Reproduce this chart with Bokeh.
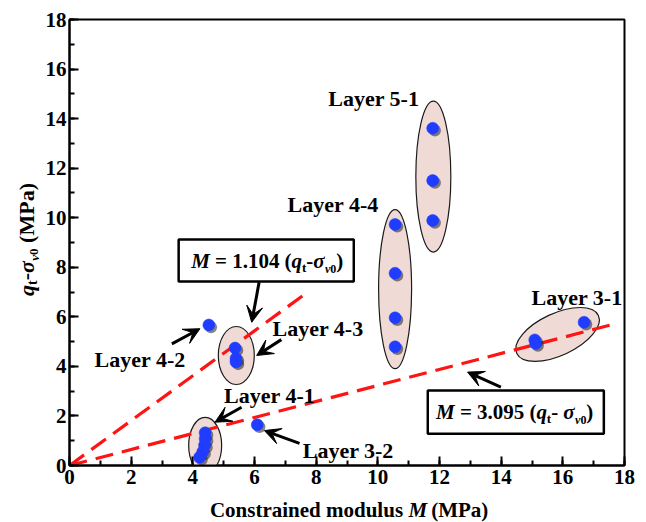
import math
from bokeh.plotting import figure
from bokeh.layouts import row, column
from bokeh.models import Range1d, SingleIntervalTicker, Label, Arrow, VeeHead, BoxAnnotation, ColumnDataSource
from bokeh.core.properties import value
from bokeh.embed import file_html
from bokeh.resources import INLINE

# ---------------- data ----------------
point_layer = (["5-1"] * 3 + ["4-4"] * 4 + ["4-3"] * 3 + ["4-2"] + ["4-1"] * 5 + ["3-2"] + ["3-1"] * 3)
point_M = [11.78, 11.78, 11.78,
           10.56, 10.56, 10.56, 10.56,
           5.37, 5.40, 5.40,
           4.52,
           4.40, 4.40, 4.38, 4.32, 4.22,
           6.09,
           15.09, 15.12, 16.69]
point_q = [13.61, 11.50, 9.89,
           9.73, 7.76, 5.96, 4.79,
           4.74, 4.32, 4.18,
           5.67,
           1.32, 1.08, 0.82, 0.55, 0.33,
           1.64,
           5.07, 4.92, 5.78]

# fitted relations M = k (qt - sv0)
fit_k = [1.104, 3.095]
fit_M_end = [7.73, 17.70]

layer_names = ["Layer 5-1", "Layer 4-4", "Layer 4-3", "Layer 4-2", "Layer 4-1", "Layer 3-2", "Layer 3-1"]
label_M = [9.87, 8.55, 8.06, 2.29, 6.49, 9.04, 16.46]
label_q = [14.80, 10.53, 5.52, 4.27, 2.82, 0.61, 6.79]

# group ellipses (centres in data units)
ell_M = [11.80, 10.56, 5.41, 4.40, 15.83]
ell_q = [11.66, 7.12, 4.44, 0.81, 5.29]
ell_w = [35, 33, 36, 33, 90]
ell_h = [151, 159, 58, 56, 42]
ell_ang = [0, 0, 0, 0, 25]

# arrows (start -> tip)
arr_x0 = [6.15, 6.87, 3.32, 5.58, 7.46, 13.99]
arr_y0 = [7.40, 5.08, 4.91, 2.35, 0.89, 3.16]
arr_x1 = [5.91, 6.07, 4.23, 4.72, 6.32, 12.91]
arr_y1 = [5.78, 4.44, 5.52, 1.75, 1.41, 3.77]

# equation boxes (left, right, bottom, top) and text anchor (centre x, baseline y)
box_l = [3.54, 11.62]
box_r = [9.22, 17.33]
box_b = [7.43, 1.28]
box_t = [9.12, 3.03]
eq_x = [6.41, 14.44]
eq_y = [7.98, 1.88]

tick_interval = 2
FONT = "Liberation Serif"

# ---------------- layout sizes ----------------
W, H = 646, 522
YW = 42            # strip for y title
XH = 27            # strip for x title
MW, MH = W - YW, H - XH
ML, MR, MT, MB = 25, 22, 19, 30

p = figure(width=MW, height=MH, output_backend="svg", toolbar_location=None,
           x_range=Range1d(0, 18), y_range=Range1d(0, 18),
           min_border_left=ML, min_border_right=MR, min_border_top=MT, min_border_bottom=MB)
p.background_fill_color = "white"
p.border_fill_color = "white"
p.grid.visible = False
p.outline_line_color = "black"
p.outline_line_width = 2
p.outline_line_alpha = 1

for ax in (p.xaxis[0], p.yaxis[0]):
    ax.ticker = SingleIntervalTicker(interval=tick_interval, num_minor_ticks=2)
    ax.axis_line_width = 2
    ax.axis_line_color = "black"
    ax.major_tick_in = 9
    ax.major_tick_out = 0
    ax.minor_tick_in = 5
    ax.minor_tick_out = 0
    ax.major_tick_line_width = 2
    ax.minor_tick_line_width = 2
    ax.major_label_text_font = FONT
    ax.major_label_text_font_style = "bold"
    ax.major_label_text_font_size = "21px"
    ax.major_label_text_color = "black"
p.xaxis.major_label_standoff = 4
p.yaxis.major_label_standoff = 3

fw = MW - ML - MR
fh = MH - MT - MB
dxp = 18.0 / fw
dyp = 18.0 / fh

# ellipses
es = ColumnDataSource(dict(x=ell_M, y=ell_q, w=ell_w, h=ell_h, a=[math.radians(a) for a in ell_ang]))
p.ellipse(x="x", y="y", width="w", height="h", angle="a", width_units="screen", height_units="screen",
          source=es, fill_color="#f0dad6", line_color="#1a1a1a", line_width=1.2)

# fit lines
for k, xe in zip(fit_k, fit_M_end):
    p.line([0, xe], [0, xe / k], line_color="#ff1414", line_width=3.2, line_dash="18 9")

# points with shadow
p.scatter([m + 2.2 * dxp for m in point_M], [q - 2.2 * dyp for q in point_q], size=12,
          fill_color="#202020", line_color=None, fill_alpha=0.55)
p.scatter(point_M, point_q, size=12, fill_color="#1f3cff", line_color="#1f3cff", line_width=0.5)

# layer labels
p.text(x=label_M, y=label_q, text=layer_names, text_font=value(FONT), text_font_size=value("22px"),
       text_font_style="bold", text_align="center", text_baseline="middle", text_color="black")

# arrows
for x0, y0, x1, y1 in zip(arr_x0, arr_y0, arr_x1, arr_y1):
    p.add_layout(Arrow(end=VeeHead(size=16, fill_color="black", line_color="black", line_width=1),
                       x_start=x0, y_start=y0, x_end=x1, y_end=y1, line_width=3, line_color="black"))

# equation boxes
for l, r, b, t in zip(box_l, box_r, box_b, box_t):
    p.add_layout(BoxAnnotation(left=l, right=r, bottom=b, top=t, fill_color="white", fill_alpha=1,
                               line_color="black", line_alpha=1, line_width=2.5, level="annotation"))

# ---------------- rich text helper ----------------
WB = {" ": 250, "(": 333, ")": 333, "-": 333, ".": 250, "=": 570, "M": 944, "P": 611, "a": 500,
      "t": 333, "v": 500, "q": 556, "C": 722, "o": 500, "n": 556, "s": 389, "r": 444, "i": 278,
      "e": 444, "d": 556, "m": 833, "u": 556, "l": 278}
WBI = {"M": 889, "q": 500, "t": 278, "v": 444, "σ": 560, " ": 250}


def tw(s, st, sz):
    tab = WBI if "italic" in st else WB
    return sum(tab.get(c, 500) for c in s) * sz / 1000.0


def put(fig, x, y, s, st, sz, align="left", angle=0.0):
    fig.add_layout(Label(x=x, y=y, text=s, angle=angle,
                         text_font=FONT, text_font_size=f"{sz}px", text_font_style=st,
                         text_align=align, text_baseline="middle", text_color="black"))


def rich(fig, x0, y0, pieces, ux, uy, angle=0.0):
    """x0,y0: centre of run / baseline in data units; ux,uy: data units per pixel."""
    total = sum(tw(t, st, sz) for t, st, sz, sh in pieces)
    off = -total / 2.0
    for t, st, sz, sh in pieces:
        lead = len(t) - len(t.lstrip(" "))
        s = t.strip(" ")
        o = off + tw(" " * lead, st, sz)
        d = sh - 0.34 * sz
        if angle == 0:
            x, y = x0 + o * ux, y0 - d * uy
        else:
            x, y = x0 + d * ux, y0 + o * uy
        if s:
            put(fig, x, y, s, st, sz, "left", angle)
        off += tw(t, st, sz)


def eq(k, gap):
    return [("M", "bold italic", 21, 0), (" = ", "bold", 21, 0), (f"{k:.3f}", "bold", 21, 0),
            (" (", "bold", 21, 0), ("q", "bold italic", 21, 0),
            ("t", "bold", 13, 4), ("-" + gap, "bold", 21, 0), ("σ", "bold italic", 21, 0),
            ("v", "bold italic", 12, 5), ("0", "bold", 12, 5), (")", "bold", 21, 0)]


rich(p, eq_x[0], eq_y[0], eq(fit_k[0], ""), dxp, dyp)
rich(p, eq_x[1], eq_y[1], eq(fit_k[1], " "), dxp, dyp)


def strip_fig(w, h):
    f = figure(width=w, height=h, output_backend="svg", toolbar_location=None,
               x_range=Range1d(0, w), y_range=Range1d(0, h),
               x_axis_location=None, y_axis_location=None, min_border=0)
    f.grid.visible = False
    f.outline_line_color = None
    f.background_fill_color = "white"
    f.border_fill_color = "white"
    return f


# x title strip (1 data unit = 1 px); "M" anchored, words placed around it
xf = strip_fig(MW, XH)
xt_size = 21
m_left = 411 - YW
xt_mid = (H - 516.7) + 0.34 * xt_size
put(xf, m_left - 6, xt_mid, "Constrained modulus", "bold", xt_size, "right")
put(xf, m_left, xt_mid, "M", "bold italic", xt_size, "left")
put(xf, m_left + tw("M", "bold italic", xt_size) + 6, xt_mid, "(MPa)", "bold", xt_size, "left")

# y title strip (1 data unit = 1 px)
yf = strip_fig(YW, H)
rich(yf, 33, H - 239, [("q", "bold italic", 22, 0), ("t", "bold", 14, 4), ("-", "bold", 22, 0),
                       ("σ", "bold italic", 22, 0), ("v", "bold italic", 13, 5), ("0", "bold", 13, 5),
                       (" ", "bold", 22, 0), ("(MPa)", "bold", 22, 0)], 1.0, 1.0, angle=math.pi / 2)

layout = row(yf, column(p, xf, spacing=0), spacing=0)
open("out.html", "w").write(file_html(layout, INLINE))
